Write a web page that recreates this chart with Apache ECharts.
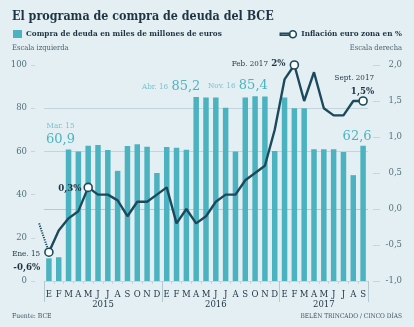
<!DOCTYPE html>
<html>
<head>
<meta charset="utf-8">
<script src="https://cdn.jsdelivr.net/npm/echarts@6/dist/echarts.min.js"></script>
<style>
  html, body { margin: 0; padding: 0; background: #e3eff2; }
  #chart { width: 414px; height: 327px; }
</style>
</head>
<body>
<div id="chart"></div>
<script>
// Months from January 2015 to September 2017
const categories = [
  '2015-01','2015-02','2015-03','2015-04','2015-05','2015-06','2015-07','2015-08','2015-09','2015-10','2015-11','2015-12',
  '2016-01','2016-02','2016-03','2016-04','2016-05','2016-06','2016-07','2016-08','2016-09','2016-10','2016-11','2016-12',
  '2017-01','2017-02','2017-03','2017-04','2017-05','2017-06','2017-07','2017-08','2017-09'
];
const monthLetters = ['E','F','M','A','M','J','J','A','S','O','N','D'];

// ECB monthly purchases, billions of euros (left scale)
const compras = [
  10.5, 11, 60.9, 60, 62.6, 63, 60.6, 51, 62.5, 63.3, 62.2, 50,
  62, 61.7, 60.8, 85.2, 85, 85, 80.2, 59.9, 85, 85.5, 85.4, 60.2,
  84.9, 80, 80, 61, 61, 61, 59.7, 49, 62.6
];

// Euro area inflation, % (right scale)
const inflacion = [
  -0.6, -0.3, -0.13, -0.03, 0.3, 0.2, 0.2, 0.12, -0.1, 0.1, 0.1, 0.2,
  0.3, -0.2, 0.0, -0.2, -0.1, 0.1, 0.2, 0.2, 0.4, 0.5, 0.6, 1.1,
  1.8, 2.0, 1.5, 1.9, 1.4, 1.3, 1.3, 1.5, 1.5
];
// December 2014 reading (month index -1), drawn dotted before the series starts
const inflacionPrevia = [[-1, -0.2], [0, -0.6]];

const yearTicks = [0, 12, 24];                   // year boundaries
const yearLabelAt = { 5: '2015', 17: '2016', 28: '2017' };

const leftTicks = [0, 20, 40, 60, 80, 100];
const rightTicks = [-1, -0.5, 0, 0.5, 1, 1.5, 2];

// Annotated points
const barNotes = {
  2:  { text: '{a|Mar. 15}\n{b|60,9}', offset: [-8, 1] },
  15: { text: '{a|Abr. 16} {b|85,2}', offset: [-25, 0] },
  22: { text: '{a|Nov. 16} {b|85,4}', offset: [-27, 0] },
  32: { text: '{b|62,6}', offset: [-6, 1] }
};
const lineNotes = {
  0:  { text: '{a|Ene. 15}\n{b|-0,6%}', position: 'left', offset: [0, 9], align: 'right' },
  4:  { text: '{b|0,3%}', position: 'left', offset: [2, 1], align: 'right' },
  25: { text: '{a|Feb. 2017} {b|2%}', position: 'left', offset: [0, -1.5], align: 'right' },
  32: { text: '{a|Sept. 2017}\n{b|1,5%}', position: 'top', offset: [11, 6], align: 'right' }
};

const SERIF = "'DejaVu Serif', serif";
const SERIF_C = "'DejaVu Serif Condensed', 'DejaVu Serif', serif";
const BAR = '#4bb3c0';
const LINE = '#1c4a5c';
const AXIS_TXT = '#55727e';
const DARK = '#1f3442';

const GRID = { left: 44, right: 46, top: 65, bottom: 46 };
const N = categories.length;
const band = (414 - GRID.left - GRID.right) / N;

const fmtRight = v => v.toFixed(1).replace('.', ',');

const barData = compras.map((v, i) => {
  const n = barNotes[i];
  if (!n) return v;
  return {
    value: v,
    label: {
      show: true, position: 'top', distance: 3, offset: n.offset,
      formatter: n.text, align: 'center',
      rich: {
        a: { fontFamily: SERIF_C, fontSize: 8, color: '#7cc3cd', lineHeight: 13 },
        b: { fontFamily: SERIF, fontSize: 13, color: '#4fb3c0', lineHeight: 15 }
      }
    }
  };
});

const lineData = inflacion.map((v, i) => {
  const n = lineNotes[i];
  if (!n) return v;
  return {
    value: v,
    symbol: 'circle',
    symbolSize: 8,
    label: {
      show: true, position: n.position, distance: 4, offset: n.offset,
      formatter: n.text, align: n.align,
      rich: {
        a: { fontFamily: SERIF_C, fontSize: 8, color: DARK, lineHeight: 13, align: n.align },
        b: { fontFamily: SERIF_C, fontSize: 9.6, fontWeight: 'bold', color: DARK, lineHeight: 14, align: n.align }
      }
    }
  };
});

const chart = echarts.init(document.getElementById('chart'), null, { renderer: 'canvas' });

chart.setOption({
  backgroundColor: '#e3eff2',
  animation: false,
  title: [
    {
      text: 'El programa de compra de deuda del BCE',
      left: 12, top: 11, padding: 0,
      textStyle: { fontFamily: SERIF_C, fontSize: 12.4, fontWeight: 'bold', color: DARK }
    },
    {
      text: 'Escala izquierda', left: 12, top: 44, padding: 0,
      textStyle: { fontFamily: SERIF_C, fontSize: 7.5, fontWeight: 'normal', color: '#4d6470' }
    },
    {
      text: 'Escala derecha', right: 12, top: 44, padding: 0,
      textStyle: { fontFamily: SERIF_C, fontSize: 7.5, fontWeight: 'normal', color: '#4d6470' }
    },
    {
      text: 'Fuente: BCE', left: 12, top: 313, padding: 0,
      textStyle: { fontFamily: SERIF_C, fontSize: 6.8, fontWeight: 'normal', color: '#3d5461' }
    },
    {
      text: 'BELÉN TRINCADO / CINCO DÍAS', right: 12, top: 313, padding: 0,
      textStyle: { fontFamily: SERIF_C, fontSize: 6.5, fontWeight: 'normal', color: '#3d5461' }
    }
  ],
  legend: [
    {
      data: [{ name: 'Compra de deuda en miles de millones de euros', icon: 'rect' }],
      left: 13, top: 30, padding: 0, itemWidth: 9, itemHeight: 8, itemGap: 4,
      textStyle: { fontFamily: SERIF_C, fontSize: 8.1, fontWeight: 'bold', color: DARK, padding: [0, 0, 0, -1] }
    },
    {
      data: [{
        name: 'Inflación euro zona en %',
        icon: 'path://M0,3.1H9.5V4.9H0Z M12.5,0.5A3.5,3.5 0 1 1 12.49,0.5Z',
        itemStyle: { color: '#ffffff', borderColor: LINE, borderWidth: 1.6 }
      }],
      right: 12, top: 30, padding: 0, itemWidth: 16, itemHeight: 8, itemGap: 4,
      textStyle: { fontFamily: SERIF_C, fontSize: 8.1, fontWeight: 'bold', color: DARK }
    }
  ],
  grid: [
    { left: GRID.left, right: GRID.right, top: GRID.top, bottom: GRID.bottom, containLabel: false },
    // same plot, widened by one month on the left for the December 2014 lead-in
    { left: GRID.left - band, right: GRID.right, top: GRID.top, bottom: GRID.bottom, containLabel: false }
  ],
  xAxis: [
    {
      type: 'category', data: categories, boundaryGap: true, gridIndex: 0,
      axisLine: { show: true, onZero: false, lineStyle: { color: '#c5d6dc', width: 1 } },
      axisTick: { show: true, length: 3, lineStyle: { color: '#c5d6dc' } },
      axisLabel: {
        interval: 0, margin: 9, fontFamily: SERIF, fontSize: 8.5, color: DARK,
        formatter: v => monthLetters[parseInt(v.slice(5), 10) - 1]
      }
    },
    {
      type: 'category', data: categories, boundaryGap: true, position: 'bottom', gridIndex: 0,
      axisLine: { show: false, onZero: false },
      axisTick: {
        show: true, length: 21, inside: false,
        interval: i => yearTicks.includes(i),
        lineStyle: { color: '#b5c8cf', width: 1 }
      },
      axisLabel: {
        interval: 0, margin: 19, fontFamily: SERIF, fontSize: 8.5, color: DARK,
        formatter: (v, i) => yearLabelAt[i] ? (i === 5 ? '{s|' + yearLabelAt[i] + '}' : yearLabelAt[i]) : '',
        rich: { s: { fontFamily: SERIF, fontSize: 8.5, color: DARK, padding: [0, 0, 0, 10] } }
      }
    },
    {
      type: 'value', gridIndex: 1, min: -1.5, max: N - 0.5, show: false,
      axisLine: { onZero: false }
    }
  ],
  yAxis: [
    {
      type: 'value', min: 0, max: 100, interval: 20, position: 'left', offset: 9, gridIndex: 0,
      axisLine: { show: false },
      axisTick: { show: true, length: 4, lineStyle: { color: '#c5d6dc' } },
      axisLabel: { margin: 8, fontFamily: SERIF, fontSize: 8.5, color: AXIS_TXT },
      splitLine: {
        show: true,
        lineStyle: { color: leftTicks.map(t => (t === 60 || t === 80) ? '#c3d5db' : 'rgba(0,0,0,0)'), width: 1 }
      }
    },
    {
      type: 'value', min: -1, max: 2, interval: 0.5, position: 'right', offset: 5, gridIndex: 0,
      axisLine: { show: false },
      axisTick: { show: true, length: 7, lineStyle: { color: '#c5d6dc' } },
      axisLabel: { margin: 29, align: 'right', fontFamily: SERIF, fontSize: 8.5, color: AXIS_TXT, formatter: fmtRight },
      splitLine: {
        show: true,
        lineStyle: { color: rightTicks.map(t => t === 0 ? '#b5cad1' : 'rgba(0,0,0,0)'), width: 1 }
      }
    },
    {
      type: 'value', min: -1, max: 2, gridIndex: 1, show: false,
      splitLine: { show: false }
    }
  ],
  series: [
    {
      name: 'Compra de deuda en miles de millones de euros',
      type: 'bar', xAxisIndex: 0, yAxisIndex: 0,
      data: barData, barWidth: 5.5,
      itemStyle: { color: BAR },
      z: 2
    },
    {
      name: 'Inflación euro zona en %',
      type: 'line', xAxisIndex: 0, yAxisIndex: 1,
      data: lineData,
      symbol: 'none', showSymbol: true, showAllSymbol: true,
      lineStyle: { color: LINE, width: 2.4 },
      itemStyle: { color: '#ffffff', borderColor: LINE, borderWidth: 1.6 },
      z: 4
    },
    {
      name: 'dic-2014',
      type: 'line', xAxisIndex: 2, yAxisIndex: 2,
      data: inflacionPrevia,
      symbol: 'none',
      lineStyle: { color: LINE, width: 2, type: [1.2, 1.2] },
      z: 3
    }
  ]
});
</script>
</body>
</html>
